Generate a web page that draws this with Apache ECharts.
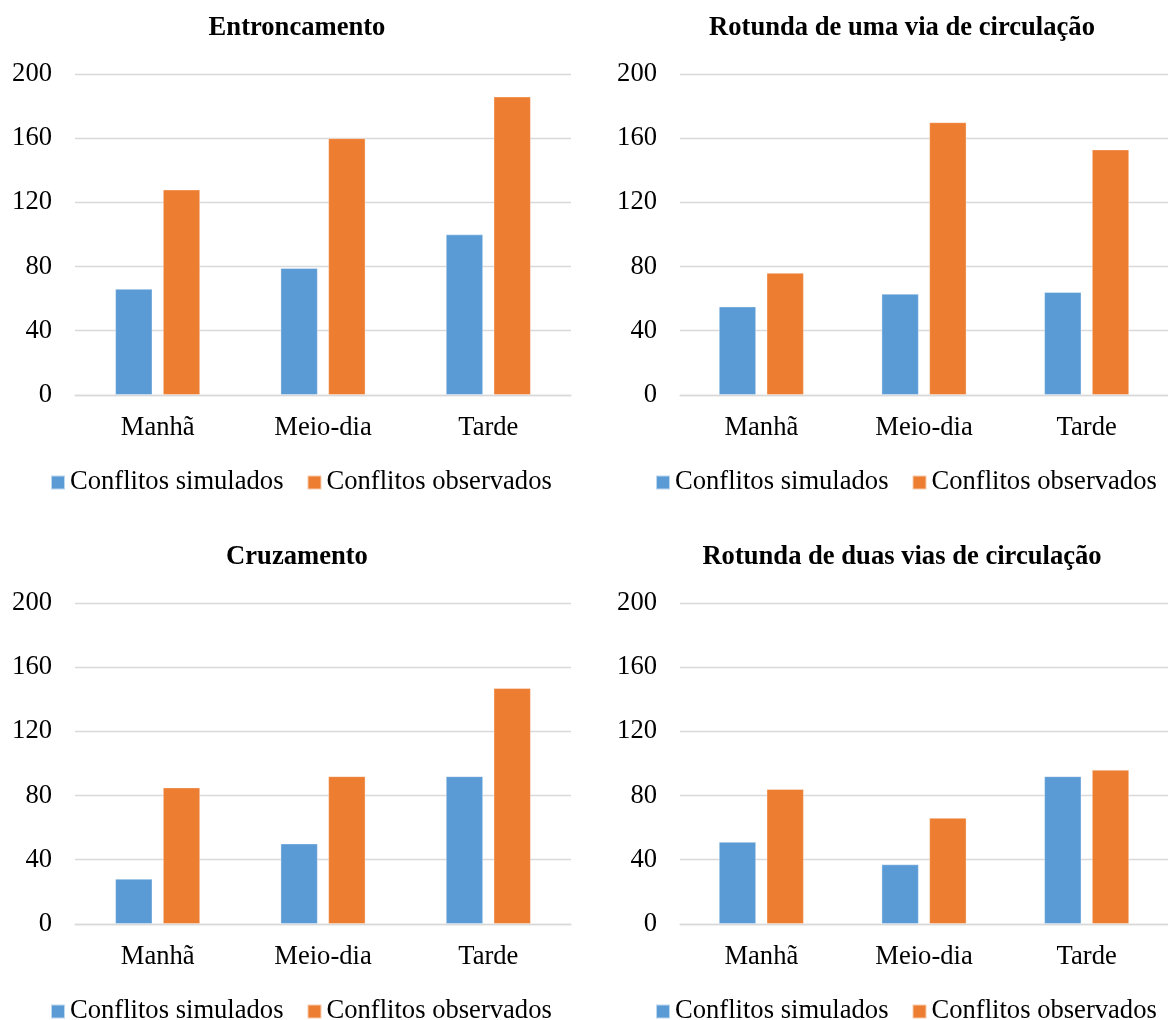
<!DOCTYPE html>
<html>
<head>
<meta charset="utf-8">
<script src="https://cdn.jsdelivr.net/npm/echarts@6/dist/echarts.min.js"></script>
<style>
  html, body { margin: 0; padding: 0; background: #fff; overflow: hidden; }
  #chart { width: 1168px; height: 1020px; }
</style>
</head>
<body>
<div id="chart"></div>
<script>
// Categorias (períodos do dia) e nomes das séries
const categories = ['Manhã', 'Meio-dia', 'Tarde'];
const seriesNames = ['Conflitos simulados', 'Conflitos observados'];
const panelTitles = [
  'Entroncamento',
  'Rotunda de uma via de circulação',
  'Cruzamento',
  'Rotunda de duas vias de circulação'
];

// Valores por tipo de interseção
const simEntroncamento = [66, 79, 100];
const obsEntroncamento = [128, 160, 186];
const simRotundaUmaVia = [55, 63, 64];
const obsRotundaUmaVia = [76, 170, 153];
const simCruzamento = [28, 50, 92];
const obsCruzamento = [85, 92, 147];
const simRotundaDuasVias = [51, 37, 92];
const obsRotundaDuasVias = [84, 66, 96];

// Escala do eixo vertical
const yMin = 0, yMax = 200, yInterval = 40;

const panelData = [
  [simEntroncamento, obsEntroncamento],
  [simRotundaUmaVia, obsRotundaUmaVia],
  [simCruzamento, obsCruzamento],
  [simRotundaDuasVias, obsRotundaDuasVias]
];

const FONT = "'Liberation Serif', 'Times New Roman', serif";
const FS = 26.6;
const BLUE = '#5b9bd5';
const ORANGE = '#ed7d31';
const GRID_LINE = '#d9d9d9';

// Posições de cada painel (coluna x, linha y)
const colOffset = [0, 605];
const rowOffset = [0, 529];

const option = {
  animation: false,
  backgroundColor: '#fff',
  title: [], legend: [], grid: [], xAxis: [], yAxis: [], series: []
};

panelData.forEach((pair, i) => {
  const dx = colOffset[i % 2];
  const dy = rowOffset[Math.floor(i / 2)];

  option.title.push({
    text: panelTitles[i],
    left: 297 + dx,
    top: 15 + dy,
    padding: 0,
    textAlign: 'center',
    textStyle: { fontFamily: FONT, fontSize: FS, fontWeight: 'bold', color: '#000' }
  });

  option.legend.push({
    data: seriesNames,
    left: 50 + dx,
    top: 469 + dy,
    padding: 0,
    itemWidth: 14,
    itemHeight: 14,
    itemGap: 23,
    icon: 'rect',
    textStyle: { fontFamily: FONT, fontSize: FS, color: '#000' }
  });

  option.grid.push({
    left: 75 + dx,
    top: 74.3 + dy,
    width: 496,
    height: 320.5,
    containLabel: false
  });

  option.xAxis.push({
    type: 'category',
    gridIndex: i,
    data: categories,
    axisTick: { show: false },
    axisLine: { lineStyle: { color: GRID_LINE, width: 1.3 } },
    axisLabel: { margin: 20, fontFamily: FONT, fontSize: FS, color: '#000' }
  });

  option.yAxis.push({
    type: 'value',
    gridIndex: i,
    min: yMin,
    max: yMax,
    interval: yInterval,
    axisLine: { show: false },
    axisTick: { show: false },
    splitLine: { lineStyle: { color: GRID_LINE, width: 1.3 } },
    axisLabel: { margin: 23, fontFamily: FONT, fontSize: FS, color: '#000' }
  });

  [BLUE, ORANGE].forEach((color, k) => {
    option.series.push({
      name: seriesNames[k],
      type: 'bar',
      xAxisIndex: i,
      yAxisIndex: i,
      data: pair[k],
      barWidth: 37,
      barGap: '29%',
      itemStyle: { color: color, borderColor: 'rgba(255,255,255,0.6)', borderWidth: 0.6 }
    });
  });
});

const chart = echarts.init(document.getElementById('chart'), null, { renderer: 'canvas' });
chart.setOption(option);
</script>
</body>
</html>
